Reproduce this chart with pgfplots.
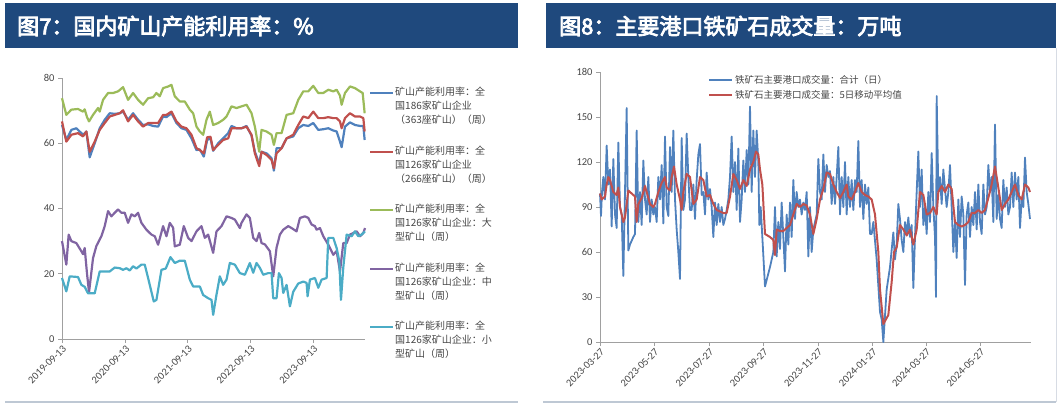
\documentclass[border=0pt]{standalone}
\usepackage{pgfplots}
\pgfplotsset{compat=1.18}
\usepackage{fontspec}
\setmainfont{Carlito}
\newfontfamily\cjk{Noto Sans CJK SC}
\newfontfamily\cjkb{Noto Sans CJK SC}[FakeBold=3.5]
\definecolor{bar}{RGB}{31,73,125}
\definecolor{cA}{HTML}{4F81BD}
\definecolor{cB}{HTML}{C0504D}
\definecolor{cC}{HTML}{9BBB59}
\definecolor{cD}{HTML}{8064A2}
\definecolor{cE}{HTML}{4BACC6}
\definecolor{axg}{RGB}{160,160,160}
\definecolor{tkc}{RGB}{70,70,70}
\pgfplotsset{
  base/.style={
    scale only axis, axis x line=bottom, axis y line=left,
    axis line style={-, axg, line width=0.8pt},
    tick style={axg, line width=0.8pt}, tick align=outside, major tick length=4pt,
    tick label style={font=\fontsize{10.5}{11}\selectfont, text=tkc},
    /pgf/number format/assume math mode=true,
    xticklabel style={rotate=45, anchor=north east, inner sep=1pt},
    enlargelimits=false, clip=false,
    legend cell align=left,
    legend image code/.code={\draw[##1] (0pt,0pt) -- (23pt,0pt);},
  }
}
\begin{document}
\begin{tikzpicture}[x=1pt,y=1pt]
\path[use as bounding box] (0,0) rectangle (1061,-404);
% title bars
\fill[bar] (5,-3) rectangle (518,-48);
\fill[bar] (546,-3) rectangle (1056,-48);
\node[anchor=west, text=white, inner sep=0pt] at (17,-26) {\cjkb\fontsize{22}{22}\selectfont 图7：国内矿山产能利用率：\%};
\node[anchor=west, text=white, inner sep=0pt] at (559,-26) {\cjkb\fontsize{22}{22}\selectfont 图8：主要港口铁矿石成交量：万吨};
\draw[line width=1.5pt, color={rgb,255:red,190;green,200;blue,212}] (5,-402) -- (518,-402);
\draw[line width=1.5pt, color={rgb,255:red,190;green,200;blue,212}] (543,-402) -- (1056,-402);
\draw[line width=0.8pt, color={rgb,255:red,215;green,220;blue,228}] (1056,-48) -- (1056,-402);

% ---------- left chart ----------
\begin{axis}[base, at={(62pt,-339pt)}, anchor=south west,
  width=303pt, height=261pt,
  xmin=187, xmax=1095, ymin=0, ymax=80,
  ytick={0,20,40,60,80},
  xtick={187,377,564,752,940},
  xticklabels={2019-09-13,2020-09-13,2021-09-13,2022-09-13,2023-09-13},
  every axis plot/.append style={line width=2.2pt, line join=round},
]
\addplot[cA] coordinates {(187,65.6)(200,61.0)(215,64.1)(230,64.6)(250,62.6)(260,63.6)(270,55.7)(285,60.0)(300,64.6)(315,67.2)(330,69.2)(345,69.0)(360,69.2)(370,69.7)(385,67.2)(400,69.2)(415,67.2)(430,65.6)(445,65.8)(460,65.3)(475,65.1)(490,68.2)(500,68.0)(515,69.2)(530,66.2)(545,64.6)(560,64.1)(575,61.5)(590,57.9)(600,58.1)(612,55.9)(622,61.0)(632,61.5)(640,57.7)(655,60.0)(670,61.5)(685,63.1)(695,65.3)(710,64.6)(725,64.6)(740,65.3)(755,62.3)(765,57.4)(778,53.8)(785,57.4)(800,56.9)(815,55.4)(822,51.6)(830,58.5)(845,58.5)(860,61.5)(880,62.1)(895,64.6)(910,65.6)(925,65.3)(940,66.2)(955,64.1)(970,64.3)(985,64.6)(1000,63.9)(1010,63.6)(1020,60.5)(1025,58.8)(1035,65.1)(1050,66.4)(1065,65.6)(1080,65.3)(1090,65.3)(1094,61.0)};
\addplot[cB] coordinates {(187,66.7)(200,60.5)(215,62.6)(235,63.1)(250,62.1)(260,63.6)(270,57.4)(285,60.5)(300,64.1)(315,66.2)(330,68.2)(345,68.7)(360,69.2)(370,70.1)(385,66.7)(400,68.7)(415,66.7)(430,65.1)(445,66.2)(460,66.2)(475,66.2)(490,68.7)(500,68.7)(515,69.7)(530,66.7)(545,65.1)(560,64.6)(575,62.6)(590,58.5)(600,57.9)(612,56.9)(622,61.8)(632,62.0)(640,57.9)(655,59.5)(670,61.0)(685,61.5)(695,64.6)(710,64.6)(725,64.6)(740,65.1)(755,62.6)(765,56.9)(778,53.0)(785,57.4)(800,56.4)(815,54.9)(822,52.3)(830,56.9)(845,58.5)(860,61.5)(880,62.6)(895,65.6)(910,68.2)(925,67.7)(940,69.7)(955,67.7)(970,67.7)(985,68.0)(1000,67.7)(1010,67.7)(1020,66.7)(1025,64.6)(1035,67.7)(1050,69.2)(1065,68.2)(1080,68.2)(1090,67.7)(1094,63.6)};
\addplot[cC] coordinates {(187,73.8)(200,68.7)(215,70.3)(235,70.5)(250,69.7)(255,70.4)(262,68.0)(268,66.7)(280,68.7)(295,70.8)(300,69.7)(310,73.3)(325,75.4)(340,75.4)(355,75.9)(370,77.2)(385,73.3)(400,75.4)(415,73.3)(430,71.8)(445,73.8)(460,74.1)(470,75.4)(480,74.4)(490,76.9)(505,77.4)(515,77.9)(525,74.4)(540,72.8)(555,72.8)(570,70.3)(580,69.2)(590,65.1)(600,63.6)(610,62.6)(620,67.2)(630,69.7)(640,65.6)(655,66.2)(670,67.2)(680,68.2)(695,71.3)(710,70.8)(725,71.3)(740,71.8)(755,69.2)(765,65.1)(778,57.4)(785,64.1)(800,63.6)(815,62.6)(822,59.5)(830,63.1)(845,63.1)(860,68.7)(880,69.2)(895,73.3)(910,75.9)(925,75.9)(940,77.6)(955,75.4)(970,75.4)(985,76.4)(1000,75.9)(1010,76.4)(1020,74.6)(1025,71.8)(1035,75.4)(1050,77.4)(1065,76.9)(1080,75.9)(1088,75.4)(1094,69.2)};
\addplot[cD] coordinates {(187,30.0)(200,22.8)(207,32.0)(215,30.0)(230,29.4)(245,26.9)(250,26.0)(255,27.9)(262,20.0)(268,14.3)(280,24.8)(290,28.5)(305,31.5)(315,34.6)(325,39.2)(335,37.6)(345,38.7)(355,39.7)(365,38.7)(375,38.7)(385,35.6)(395,38.2)(405,37.6)(415,38.7)(425,35.6)(440,33.5)(455,32.0)(465,31.5)(475,28.9)(490,34.6)(500,31.5)(510,35.6)(520,34.1)(525,28.4)(540,28.9)(552,34.6)(565,31.0)(575,30.0)(590,33.0)(605,34.6)(615,31.0)(625,32.0)(640,26.4)(650,33.0)(665,34.6)(680,37.6)(695,37.1)(705,36.6)(720,34.0)(725,35.6)(740,38.2)(750,37.1)(760,31.0)(770,30.0)(778,32.5)(785,29.4)(795,29.0)(810,26.9)(820,19.2)(830,28.0)(840,32.0)(850,33.5)(865,34.6)(875,34.0)(890,33.0)(900,37.1)(915,37.6)(925,37.1)(935,35.1)(945,34.6)(950,33.5)(960,34.0)(970,31.5)(985,28.9)(1000,25.8)(1010,27.0)(1020,20.7)(1030,29.4)(1040,29.4)(1050,32.0)(1060,32.5)(1070,33.0)(1080,31.5)(1090,32.5)(1095,34.0)};
\addplot[cE] coordinates {(187,18.7)(200,14.6)(210,19.2)(235,19.0)(245,16.6)(255,16.0)(265,14.0)(285,14.0)(300,20.7)(330,20.7)(345,21.9)(360,21.7)(370,21.2)(380,21.7)(390,21.0)(400,22.3)(410,21.6)(425,22.8)(435,22.8)(445,18.7)(462,11.5)(470,12.0)(485,21.2)(498,21.6)(512,25.1)(525,23.3)(540,24.0)(555,24.0)(570,18.2)(580,16.1)(600,16.1)(610,13.5)(625,12.5)(635,12.0)(640,7.4)(650,13.6)(660,19.2)(670,16.6)(680,18.2)(690,23.3)(705,22.8)(720,20.2)(735,19.7)(750,23.3)(760,20.3)(770,23.3)(780,21.8)(790,19.7)(805,20.2)(815,20.2)(820,12.5)(830,12.5)(837,20.2)(845,18.7)(850,14.1)(860,16.6)(870,10.0)(880,14.5)(895,17.0)(910,17.6)(920,17.2)(923,13.1)(930,18.2)(945,18.7)(955,15.7)(965,18.2)(980,18.7)(985,31.0)(1000,31.0)(1010,27.9)(1018,23.8)(1023,12.0)(1030,22.0)(1040,32.0)(1055,31.5)(1065,33.0)(1075,31.5)(1085,32.0)(1095,33.0)};
\end{axis}
% left legend (multi-line entries)
\begin{scope}[every node/.style={anchor=north west, inner sep=0pt, align=left, text=tkc, font=\cjk\fontsize{10}{14}\selectfont}]
\draw[cA, line width=2.2pt] (370,-93) -- (393,-93);
\node at (395,-87) {矿山产能利用率：全\\国186家矿山企业\\（363座矿山）（周）};
\draw[cB, line width=2.2pt] (370,-152) -- (393,-152);
\node at (395,-146) {矿山产能利用率：全\\国126家矿山企业\\（266座矿山）（周）};
\draw[cC, line width=2.2pt] (370,-210) -- (393,-210);
\node at (395,-204) {矿山产能利用率：全\\国126家矿山企业：大\\型矿山（周）};
\draw[cD, line width=2.2pt] (370,-269) -- (393,-269);
\node at (395,-263) {矿山产能利用率：全\\国126家矿山企业：中\\型矿山（周）};
\draw[cE, line width=2.2pt] (370,-327) -- (393,-327);
\node at (395,-321) {矿山产能利用率：全\\国126家矿山企业：小\\型矿山（周）};
\end{scope}

% ---------- right chart ----------
\begin{axis}[base, at={(600pt,-342pt)}, anchor=south west,
  width=431pt, height=270pt,
  xmin=180, xmax=1473, ymin=0, ymax=180,
  ytick={0,30,60,90,120,150,180},
  xtick={180,343,508,671,834,998,1158,1321},
  xticklabels={2023-03-27,2023-05-27,2023-07-27,2023-09-27,2023-11-27,2024-01-27,2024-03-27,2024-05-27},
  legend style={at={(rel axis cs:0.2506,0.99)}, anchor=north west, draw=none, fill=none,
    row sep=6pt, column sep=2pt, inner sep=0pt,
    nodes={inner sep=0pt, font=\cjk\fontsize{9.5}{11}\selectfont, text=tkc}},
  every axis plot/.append style={line join=round},
]
\addplot[cA, line width=1.8pt] coordinates {(180,99)(183,84)(186,100)(190,110)(195,95)(200,131)(205,105)(210,115)(215,77)(220,122)(225,85)(230,76)(235,133)(240,90)(245,85)(250,44)(255,100)(260,156)(265,61)(270,65)(280,70)(285,72)(290,141)(295,80)(300,100)(305,78)(310,121)(315,95)(320,85)(325,110)(330,80)(335,95)(340,85)(345,90)(350,80)(355,110)(360,95)(365,118)(370,79)(375,137)(380,90)(385,84)(390,130)(395,100)(400,141)(405,95)(410,75)(415,60)(420,42)(425,136)(430,88)(435,95)(440,139)(445,110)(450,88)(455,88)(460,105)(465,82)(470,108)(475,125)(480,132)(485,98)(490,100)(495,85)(500,113)(505,95)(510,102)(515,90)(520,70)(525,93)(530,78)(535,92)(540,80)(545,90)(550,78)(555,82)(560,88)(565,95)(570,110)(575,137)(580,100)(585,120)(590,88)(595,129)(600,80)(605,95)(610,121)(615,100)(620,128)(625,105)(630,157)(635,100)(640,141)(645,110)(650,141)(655,120)(658,78)(662,90)(667,70)(675,37)(690,50)(700,60)(705,90)(710,57)(715,80)(720,62)(725,93)(730,70)(735,47)(740,85)(745,65)(750,93)(755,70)(760,108)(765,82)(770,100)(775,90)(780,95)(785,85)(790,93)(795,88)(800,100)(805,57)(810,90)(815,60)(820,75)(825,80)(830,85)(835,122)(840,100)(845,95)(850,125)(855,100)(860,118)(865,110)(870,114)(875,92)(880,110)(885,92)(890,110)(895,130)(900,85)(905,110)(910,90)(915,120)(920,85)(925,110)(930,90)(935,108)(940,88)(945,108)(950,100)(955,134)(960,90)(965,108)(970,82)(975,105)(980,92)(985,103)(990,72)(995,72)(1000,80)(1010,55)(1020,20)(1025,15)(1030,0)(1040,35)(1050,50)(1060,73)(1065,55)(1070,65)(1075,92)(1080,82)(1085,68)(1090,60)(1095,80)(1100,72)(1105,83)(1110,70)(1115,78)(1120,36)(1125,70)(1130,100)(1135,127)(1140,90)(1145,115)(1150,78)(1155,90)(1160,72)(1165,100)(1170,80)(1175,126)(1180,90)(1185,70)(1188,30)(1190,164)(1195,100)(1200,110)(1205,92)(1210,115)(1215,102)(1220,90)(1225,100)(1230,118)(1235,90)(1240,60)(1245,80)(1250,56)(1255,95)(1260,70)(1265,97)(1270,85)(1275,38)(1280,85)(1285,93)(1290,70)(1295,90)(1300,78)(1305,100)(1310,75)(1315,105)(1320,80)(1325,72)(1330,105)(1335,85)(1340,90)(1345,118)(1350,100)(1355,110)(1360,80)(1365,145)(1370,82)(1375,98)(1380,82)(1385,76)(1390,108)(1395,90)(1400,103)(1405,85)(1410,90)(1415,113)(1420,90)(1425,113)(1430,95)(1435,110)(1440,76)(1445,95)(1450,90)(1455,123)(1460,100)(1465,92)(1470,82)};
\addlegendentry{铁矿石主要港口成交量：合计（日）}
\addplot[cB, line width=2pt] coordinates {(180,99)(185,95)(195,97)(200,105)(205,110)(210,108)(220,100)(230,98)(235,103)(240,90)(250,80)(255,83)(265,101)(275,99)(285,97)(290,80)(295,92)(305,96)(315,104)(320,100)(330,92)(340,90)(345,92)(355,100)(365,106)(375,110)(380,103)(390,101)(395,110)(402,117)(410,105)(420,95)(425,88)(430,100)(440,112)(450,110)(460,92)(470,95)(480,110)(490,108)(500,97)(510,98)(520,92)(530,88)(540,87)(550,86)(560,86)(570,97)(580,112)(590,108)(600,102)(610,108)(620,104)(630,115)(640,120)(648,127)(655,125)(660,115)(667,105)(675,72)(690,70)(700,68)(705,58)(710,75)(720,74)(730,74)(740,76)(750,78)(760,85)(770,92)(780,90)(790,92)(800,91)(810,85)(820,72)(830,82)(840,95)(850,102)(860,113)(870,112)(880,105)(890,100)(900,96)(910,100)(920,105)(925,97)(935,95)(945,100)(955,106)(965,100)(975,98)(985,97)(995,95)(1005,85)(1015,60)(1020,35)(1030,12)(1045,18)(1055,40)(1062,60)(1070,63)(1080,78)(1090,75)(1100,71)(1110,75)(1120,65)(1130,75)(1140,100)(1150,98)(1160,85)(1170,86)(1180,90)(1190,85)(1195,100)(1205,104)(1215,100)(1225,105)(1235,102)(1245,80)(1255,78)(1265,77)(1275,78)(1285,80)(1295,86)(1305,86)(1315,88)(1325,86)(1335,88)(1345,96)(1355,105)(1365,117)(1375,103)(1385,88)(1395,92)(1405,95)(1415,100)(1425,105)(1435,98)(1445,95)(1455,105)(1465,103)(1470,100)};
\addlegendentry{铁矿石主要港口成交量：5日移动平均值}
\end{axis}
\end{tikzpicture}
\end{document}
